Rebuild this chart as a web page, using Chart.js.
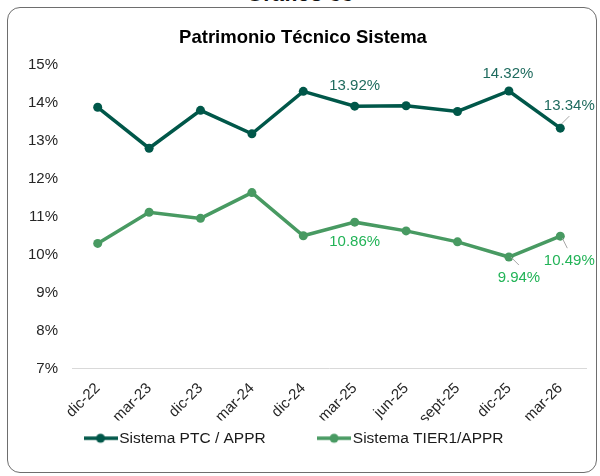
<!DOCTYPE html>
<html>
<head>
<meta charset="utf-8">
<script src="https://cdn.jsdelivr.net/npm/chart.js@4"></script>
<style>
  html, body { margin: 0; padding: 0; background: #fff; }
  body { width: 600px; height: 476px; position: relative; overflow: hidden; font-family: "Liberation Sans", Arial, sans-serif; }
  #heading { position: absolute; left: 0; width: 600px; top: -16.6px; line-height: 22px; text-align: center; font-weight: bold; font-size: 22px; color: #111; }
  #frame { position: absolute; left: 7px; top: 7px; width: 588px; height: 464px; border: 1.5px solid #6e6e6e; border-radius: 13px; }
  #chart { position: absolute; left: 0; top: 0; }
</style>
</head>
<body>
<div id="heading">Gráfico 33</div>
<div id="frame"></div>
<canvas id="chart" width="600" height="476"></canvas>
<script>
// periods on the x axis
const periods = ['dic-22', 'mar-23', 'dic-23', 'mar-24', 'dic-24', 'mar-25', 'jun-25', 'sept-25', 'dic-25', 'mar-26'];

// ratios in percent
const ptcAppr = [13.89, 12.81, 13.81, 13.19, 14.31, 13.92, 13.93, 13.78, 14.32, 13.34];
const tier1Appr = [10.30, 11.12, 10.96, 11.64, 10.50, 10.86, 10.63, 10.34, 9.94, 10.49];

// y axis ticks
const yTicks = [7, 8, 9, 10, 11, 12, 13, 14, 15];

const seriesNames = ['Sistema PTC / APPR', 'Sistema TIER1/APPR'];
const lineColors = ['#005749', '#489a62'];
const labelColors = ['#1f6b5e', '#22b357'];

// which points carry a value label, and where it sits
const labelSpots = [
    { ds: 0, i: 5, dx: 0, dy: -20 },
    { ds: 0, i: 8, dx: -1, dy: -17 },
    { ds: 0, i: 9, dx: 9, dy: -22, leader: [1, -4, 9, -12] },
    { ds: 1, i: 5, dx: 0, dy: 20 },
    { ds: 1, i: 8, dx: 10, dy: 21, leader: [2, 0, 10, 8] },
    { ds: 1, i: 9, dx: 9, dy: 25, leader: [2, 2, 7, 12] }
];

// small line-with-dot swatch for the legend
function legendSwatch(color) {
    const c = document.createElement('canvas');
    c.width = 34;
    c.height = 12;
    const g = c.getContext('2d');
    g.strokeStyle = color;
    g.lineWidth = 3.5;
    g.beginPath();
    g.moveTo(0, 6);
    g.lineTo(34, 6);
    g.stroke();
    g.fillStyle = color;
    g.beginPath();
    g.arc(17, 6, 4.5, 0, Math.PI * 2);
    g.fill();
    return c;
}

const valueLabels = {
    id: 'valueLabels',
    afterDatasetsDraw(chart) {
        const ctx = chart.ctx;
        ctx.save();
        ctx.font = '15px "Liberation Sans", Arial, sans-serif';
        ctx.textAlign = 'center';
        ctx.textBaseline = 'middle';
        labelSpots.forEach(spot => {
            const pt = chart.getDatasetMeta(spot.ds).data[spot.i];
            const value = chart.data.datasets[spot.ds].data[spot.i];
            if (spot.leader) {
                const l = spot.leader;
                ctx.strokeStyle = '#a6a6a6';
                ctx.lineWidth = 1;
                ctx.beginPath();
                ctx.moveTo(pt.x + l[0], pt.y + l[1]);
                ctx.lineTo(pt.x + l[2], pt.y + l[3]);
                ctx.stroke();
            }
            ctx.fillStyle = labelColors[spot.ds];
            ctx.fillText(value.toFixed(2) + '%', pt.x + spot.dx, pt.y + spot.dy);
        });
        ctx.restore();
    }
};

Chart.defaults.font.family = '"Liberation Sans", Arial, sans-serif';

new Chart(document.getElementById('chart'), {
    type: 'line',
    data: {
        labels: periods,
        datasets: [ptcAppr, tier1Appr].map((values, k) => ({
            label: seriesNames[k],
            data: values,
            borderColor: lineColors[k],
            backgroundColor: lineColors[k],
            borderWidth: 3.5,
            pointRadius: 4.5,
            pointBackgroundColor: lineColors[k],
            pointBorderWidth: 0,
            tension: 0,
            pointStyle: 'circle'
        }))
    },
    options: {
        responsive: false,
        animation: false,
        layout: { padding: { left: 20, right: 14, top: 14, bottom: 20 } },
        plugins: {
            title: {
                display: true,
                text: 'Patrimonio Técnico Sistema',
                color: '#000',
                font: { size: 18.5, weight: 'bold' },
                padding: { top: 13, bottom: 16 }
            },
            legend: {
                position: 'bottom',
                labels: {
                    usePointStyle: true,
                    pointStyleWidth: 22,
                    color: '#1a1a1a',
                    font: { size: 15.5 },
                    padding: 10,
                    generateLabels(chart) {
                        // extra spaces keep the two entries apart and nudge the row left
                        return chart.data.datasets.map((ds, k) => ({
                            text: ds.label + (k === 0 ? '           ' : '   '),
                            pointStyle: legendSwatch(lineColors[k]),
                            fontColor: '#1a1a1a',
                            datasetIndex: k,
                            hidden: false,
                            lineWidth: 0
                        }));
                    }
                }
            },
            tooltip: { enabled: false }
        },
        scales: {
            x: {
                offset: true,
                grid: { display: false, drawTicks: false },
                border: { display: true, color: '#d9d9d9', width: 1 },
                ticks: {
                    color: '#262626',
                    font: { size: 15 },
                    maxRotation: 45,
                    minRotation: 45,
                    padding: 11
                },
                afterFit(scale) { scale.height = 52; }
            },
            y: {
                min: 7,
                max: 15,
                afterBuildTicks(scale) { scale.ticks = yTicks.map(v => ({ value: v })); },
                grid: { display: false, drawTicks: false },
                border: { display: false },
                ticks: {
                    color: '#262626',
                    font: { size: 15 },
                    padding: 14,
                    callback: v => v + '%'
                },
                afterFit(scale) { scale.width = 52; }
            }
        }
    },
    plugins: [valueLabels]
});
</script>
</body>
</html>
